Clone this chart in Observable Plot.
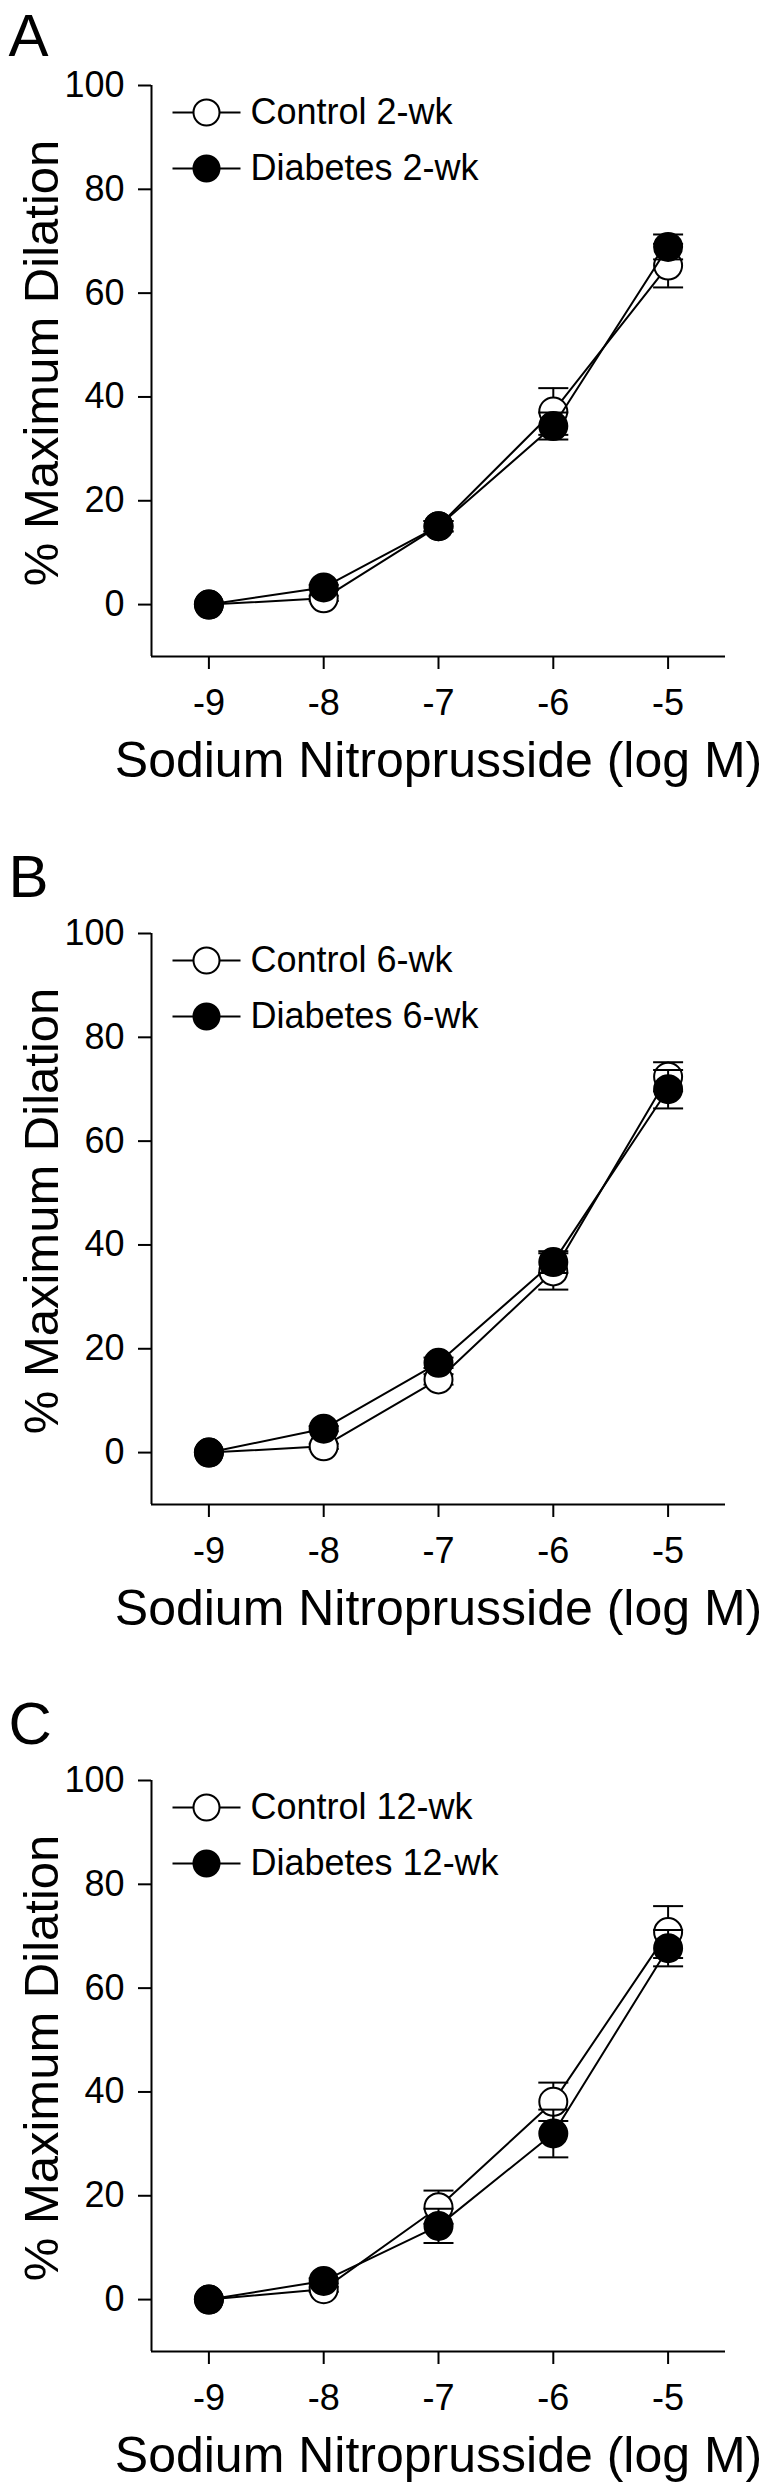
<!DOCTYPE html>
<html>
<head>
<meta charset="utf-8">
<script src="https://cdn.jsdelivr.net/npm/d3@7"></script>
<script src="https://cdn.jsdelivr.net/npm/@observablehq/plot@0.6"></script>
<style>
  html, body { margin: 0; padding: 0; background: #fff; }
  #chart svg { display: block; }
</style>
</head>
<body>
<div id="chart"></div>
<script>
// ---- Data ----
const concentrations = [-9, -8, -7, -6, -5];      // log M
const xTicks = [-9, -8, -7, -6, -5];
const yTicks = [0, 20, 40, 60, 80, 100];
const xDomain = [-9.5, -4.5];
const yDomain = [-10, 100];

const panelLetters = ["A", "B", "C"];
const durations = ["2-wk", "6-wk", "12-wk"];

const control2     = [0, 1.2, 15.1, 37.2, 65.3];
const control2Sem  = [0, 0.5, 1.0, 4.5, 4.2];
const diabetes2    = [0, 3.3, 15.1, 34.4, 68.9];
const diabetes2Sem = [0, 0.5, 1.0, 2.6, 2.4];

const control6     = [0, 1.2, 14.1, 34.9, 72.4];
const control6Sem  = [0, 0.5, 1.0, 3.5, 2.8];
const diabetes6    = [0, 4.6, 17.3, 36.7, 70.0];
const diabetes6Sem = [0, 0.5, 1.0, 2.1, 3.7];

const control12     = [0, 2.0, 17.8, 38.1, 70.8];
const control12Sem  = [0, 0.5, 3.2, 3.7, 5.0];
const diabetes12    = [0, 3.6, 14.2, 32.0, 67.7];
const diabetes12Sem = [0, 0.5, 3.3, 4.6, 3.5];

const xLabel = "Sodium Nitroprusside (log M)";
const yLabel = "% Maximum Dilation";

// ---- Layout ----
const W = 759;
const panelHeights = [848, 847, 790];
const letterOffsets = [-30, -37, -37];
const FONT = "'Liberation Sans', Arial, Helvetica, sans-serif";

const controls = [control2, control6, control12];
const controlSems = [control2Sem, control6Sem, control12Sem];
const diabetes = [diabetes2, diabetes6, diabetes12];
const diabetesSems = [diabetes2Sem, diabetes6Sem, diabetes12Sem];

const capSymbol = { draw(ctx) { ctx.moveTo(-15, 0); ctx.lineTo(15, 0); } };
const legendLine = { draw(ctx) { ctx.moveTo(-34, 0); ctx.lineTo(34, 0); } };

function seriesMarks(rows, fill) {
  const err = rows.filter(d => d.sem > 0);
  return [
    Plot.line(rows, { x: "x", y: "y", stroke: "black", strokeWidth: 2 }),
    Plot.ruleX(err, { x: "x", y1: d => d.y - d.sem, y2: d => d.y + d.sem, stroke: "black", strokeWidth: 2 }),
    Plot.dot(err, { x: "x", y: d => d.y + d.sem, symbol: capSymbol, fill: "none", stroke: "black", strokeWidth: 2 }),
    Plot.dot(err, { x: "x", y: d => d.y - d.sem, symbol: capSymbol, fill: "none", stroke: "black", strokeWidth: 2 }),
    Plot.dot(rows, { x: "x", y: "y", r: 14, fill, stroke: "black", strokeWidth: 2 })
  ];
}

function legendMarks(label, fill, dy) {
  return [
    Plot.dot([label], { x: null, y: null, frameAnchor: "top-left", dx: 55, dy, symbol: legendLine, fill: "none", stroke: "black", strokeWidth: 2 }),
    Plot.dot([label], { x: null, y: null, frameAnchor: "top-left", dx: 55, dy, r: 13, fill, stroke: "black", strokeWidth: 2 }),
    Plot.text([label], { x: null, y: null, text: d => d, frameAnchor: "top-left", dx: 99, dy, textAnchor: "start", lineAnchor: "middle", fontSize: 36, fill: "black" })
  ];
}

function panel(i) {
  const height = panelHeights[i];
  const ctrl = concentrations.map((c, j) => ({ x: c, y: controls[i][j], sem: controlSems[i][j] }));
  const diab = concentrations.map((c, j) => ({ x: c, y: diabetes[i][j], sem: diabetesSems[i][j] }));
  return Plot.plot({
    width: W,
    height,
    marginLeft: 151,
    marginRight: 34,
    marginTop: 85,
    marginBottom: height - 656,
    style: { fontFamily: FONT, background: "white", color: "black", overflow: "visible" },
    x: { domain: xDomain },
    y: { domain: yDomain },
    marks: [
      Plot.ruleX([xDomain[0]], { stroke: "black", strokeWidth: 2 }),
      Plot.ruleY([yDomain[0]], { stroke: "black", strokeWidth: 2 }),
      Plot.axisY({ ticks: yTicks, tickSize: 13, tickPadding: 14, fontSize: 36, strokeWidth: 2, label: null, tickFormat: d => String(d) }),
      Plot.axisX({ ticks: xTicks, tickSize: 13, tickPadding: 20, fontSize: 36, strokeWidth: 2, label: null, tickFormat: d => String(d) }),
      ...seriesMarks(ctrl, "white"),
      ...seriesMarks(diab, "black"),
      ...legendMarks("Control " + durations[i], "white", 27),
      ...legendMarks("Diabetes " + durations[i], "black", 83),
      Plot.text([xLabel], { x: null, y: null, text: d => d, frameAnchor: "bottom", dy: 120, textAnchor: "middle", lineAnchor: "bottom", fontSize: 50, fill: "black" }),
      Plot.text([yLabel], { x: null, y: null, text: d => d, frameAnchor: "left", dx: -94, dy: -8, rotate: -90, textAnchor: "middle", lineAnchor: "bottom", fontSize: 49, fill: "black" }),
      Plot.text([panelLetters[i]], { x: null, y: null, text: d => d, frameAnchor: "top-left", dx: -143, dy: letterOffsets[i], textAnchor: "start", lineAnchor: "bottom", fontSize: 60, fill: "black" })
    ]
  });
}

const root = document.getElementById("chart");
for (let i = 0; i < 3; i++) root.appendChild(panel(i));
</script>
</body>
</html>
